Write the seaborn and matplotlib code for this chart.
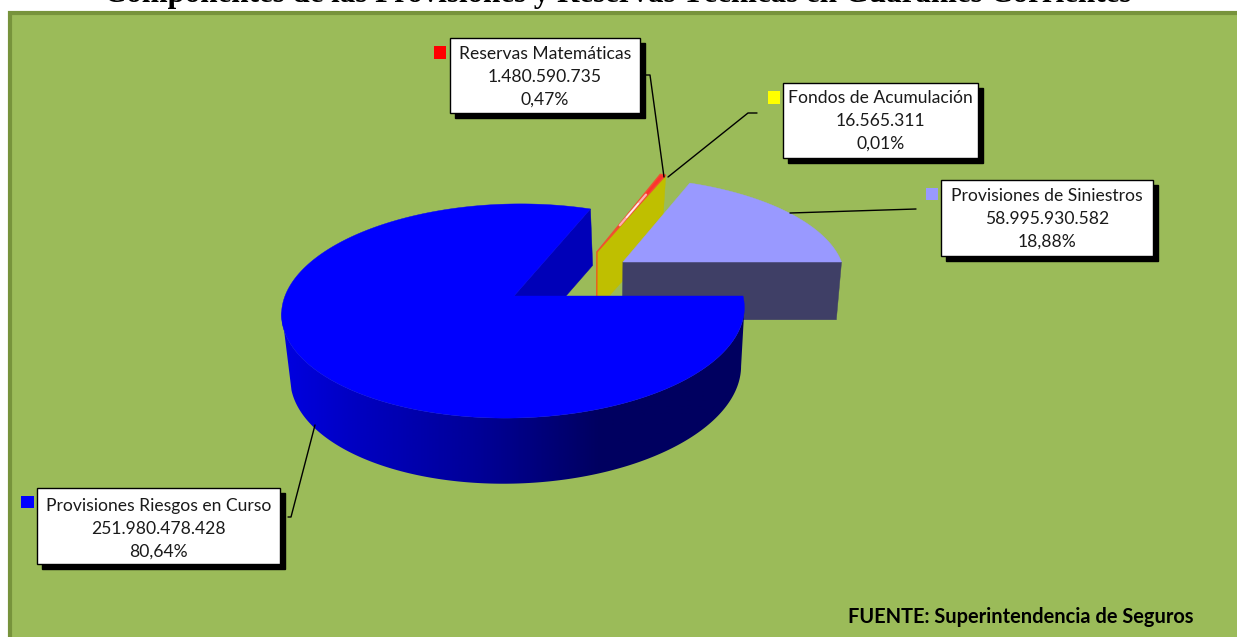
import numpy as np
import pandas as pd
import matplotlib
matplotlib.use("Agg")
import matplotlib.pyplot as plt
from matplotlib.colors import LinearSegmentedColormap
from matplotlib.patches import Rectangle, Polygon
import seaborn as sns

TITLE = "Componentes de las Provisiones y Reservas Técnicas en Guaraníes Corrientes"
SOURCE = "FUENTE: Superintendencia de Seguros"
categories = ["Provisiones Riesgos en Curso", "Reservas Matemáticas", "Fondos de Acumulación", "Provisiones de Siniestros"]
values = [251980478428, 1480590735, 16565311, 58995930582]
percent_labels = ["80,64%", "0,47%", "0,01%", "18,88%"]
colors = ["#0000FF", "#FF0000", "#FFFF00", "#9999FF"]

sns.set_theme(style="white")
plt.rcParams["font.family"] = ["Lato", "DejaVu Sans"]

fig, ax = plt.subplots(figsize=(12.37, 6.37), dpi=100)
ax.set_position([0, 0, 1, 1])
ax.set_xlim(0, 1237)
ax.set_ylim(637, 0)
ax.axis("off")

# panel
ax.add_patch(Rectangle((10, 13), 1240, 640, fc="#9BBB59", ec="#77933C", lw=3, zorder=0))

# perspective projection of the pie planes
TOP = dict(cx=514, cy=296, b=229, a=105, k=0.14, sk=7.5)
BOT = dict(cx=518, cy=351, b=221, a=107.5, k=0.19, sk=12)
BOT_OUT = dict(cx=514, cy=354, b=228, a=107.5, k=0.19, sk=12)

def proj(u, v, p):
    u = np.asarray(u, dtype=float)
    v = np.asarray(v, dtype=float)
    d = 1 + p["k"] * v
    return np.column_stack([p["cx"] + (p["b"] * u + p["sk"] * v) / d, p["cy"] - p["a"] * v / d])

def pol(ang):
    t = np.radians(ang)
    return np.cos(t), np.sin(t)

def wedge(ang0, ang1, off, p):
    t = np.linspace(ang0, ang1, 200)
    c, s = pol(t)
    return proj(np.r_[off[0], off[0] + c], np.r_[off[1], off[1] + s], p)

total = sum(values)
sweep = [360 * v / total for v in values]
blue_end = -sweep[0]                  # clockwise from 0 deg
red_a = blue_end + 360
red_b = red_a - sweep[1]
yel_b = red_b - sweep[2]

OFF_LAV = (0.487, 0.339)
OFF_THIN = (0.37, 0.445)

def radial_wall(ang, off, color, z, bottom):
    c, s = pol(ang)
    a = proj([off[0], off[0] + c], [off[1], off[1] + s], TOP)
    b = proj([off[0] + c, off[0]], [off[1] + s, off[1]], bottom)
    ax.add_patch(Polygon(np.vstack([a, b]), closed=True, fc=color, ec=color, lw=0.3, zorder=z))

# thin slices
radial_wall(yel_b, OFF_THIN, "#BFBF00", 2, BOT_OUT)
ax.add_patch(Polygon(wedge(red_a, yel_b, OFF_THIN, TOP), closed=True, fc="#FF3030", ec="#F05030", lw=1.0, zorder=3))
c, s = pol((red_a + red_b) / 2)
r = np.array([0.32, 0.72])
ax.plot(*proj(OFF_THIN[0] + r * c, OFF_THIN[1] + r * s, TOP).T, color="#FFB0B0", lw=1.6, zorder=3.1, solid_capstyle="round")
r = np.array([0.42, 0.6])
ax.plot(*proj(OFF_THIN[0] + r * c, OFF_THIN[1] + r * s, TOP).T, color="#FFF0F0", lw=1.0, zorder=3.2)
ax.plot(*np.vstack([proj([OFF_THIN[0]], [OFF_THIN[1]], TOP), proj([OFF_THIN[0]], [OFF_THIN[1]], BOT_OUT)]).T, color="#E8601E", lw=1.1, zorder=3.2)

# siniestros slice
radial_wall(0, OFF_LAV, "#3F3F66", 4, BOT_OUT)
ax.add_patch(Polygon(wedge(yel_b, 0, OFF_LAV, TOP), closed=True, fc=colors[3], ec=colors[3], lw=0.3, zorder=5))

# main slice: inner wall, outer wall as a clipped horizontal gradient, top
radial_wall(red_a, (0, 0), "#0000B8", 6, BOT)
top_c, top_s = pol(np.linspace(188, 352, 300))
bot_c, bot_s = pol(np.linspace(352, 200, 300))
wall_outline = np.vstack([proj(top_c, top_s, TOP), proj(bot_c, bot_s, BOT)])
wall_poly = Polygon(wall_outline, closed=True, fc="none", ec="none", transform=ax.transData)
ax.add_patch(wall_poly)
shade_x = np.linspace(270, 760, 491)
shade = np.interp(shade_x, [281, 350, 480, 600, 760], [225, 195, 150, 96, 96]) / 255
wall_cmap = LinearSegmentedColormap.from_list("wall", [(0, 0, 0), (0, 0, 1)])
im = ax.imshow(shade[None, :], extent=(270, 760, 500, 280), cmap=wall_cmap, vmin=0, vmax=1,
               aspect="auto", interpolation="bilinear", zorder=7)
im.set_clip_path(wall_poly)
ax.add_patch(Polygon(wedge(0, blue_end, (0, 0), TOP), closed=True, fc=colors[0], ec=colors[0], lw=0.3, zorder=8))

# leader lines
leaders = [
    ([288, 291, 315], [517, 517, 425]),
    ([640, 650, 664], [75, 75, 177]),
    ([757, 748, 668], [113, 113, 177]),
    ([916, 790], [209, 213]),
]
for lx, ly in leaders:
    ax.plot(lx, ly, color="black", lw=1.0, zorder=9)

# labels
boxes = [(37, 488, 243, 76), (450, 38, 190, 75), (783, 83, 195, 75), (941, 180, 212, 76)]
mid_y = [529, 77, 121, 219]
for name, val, pct, (x, y, w, h), ym in zip(categories, values, percent_labels, boxes, mid_y):
    ax.add_patch(Rectangle((x + 5, y + 5), w, h, fc="black", ec="black", lw=1, zorder=10))
    ax.add_patch(Rectangle((x, y), w, h, fc="white", ec="black", lw=1, zorder=11))
    lines = [name, f"{val:,}".replace(",", "."), pct]
    for i, line in enumerate(lines):
        ax.text(x + w / 2, ym + (i - 1) * 23, line, ha="center", va="center", fontsize=12.6, color="#1a1a1a", zorder=12)

# legend keys
keys = pd.DataFrame({"name": categories, "kx": [27.5, 440, 774, 932], "ky": [502, 52.5, 97.5, 194]})
sns.scatterplot(data=keys, x="kx", y="ky", hue="name", palette=dict(zip(categories, colors)), marker="s",
                s=78, linewidth=0, legend=False, ax=ax, zorder=13)
ax.set_xlim(0, 1237)
ax.set_ylim(637, 0)

ax.text(617.5, 2, TITLE, ha="center", va="baseline", fontsize=22.3, fontweight="bold", family="Liberation Serif", color="black", zorder=14)
ax.text(1193, 617, SOURCE, ha="right", va="center", fontsize=14.4, fontweight="bold", color="black", zorder=14)

fig.savefig("out.png", dpi=100, facecolor="white")
